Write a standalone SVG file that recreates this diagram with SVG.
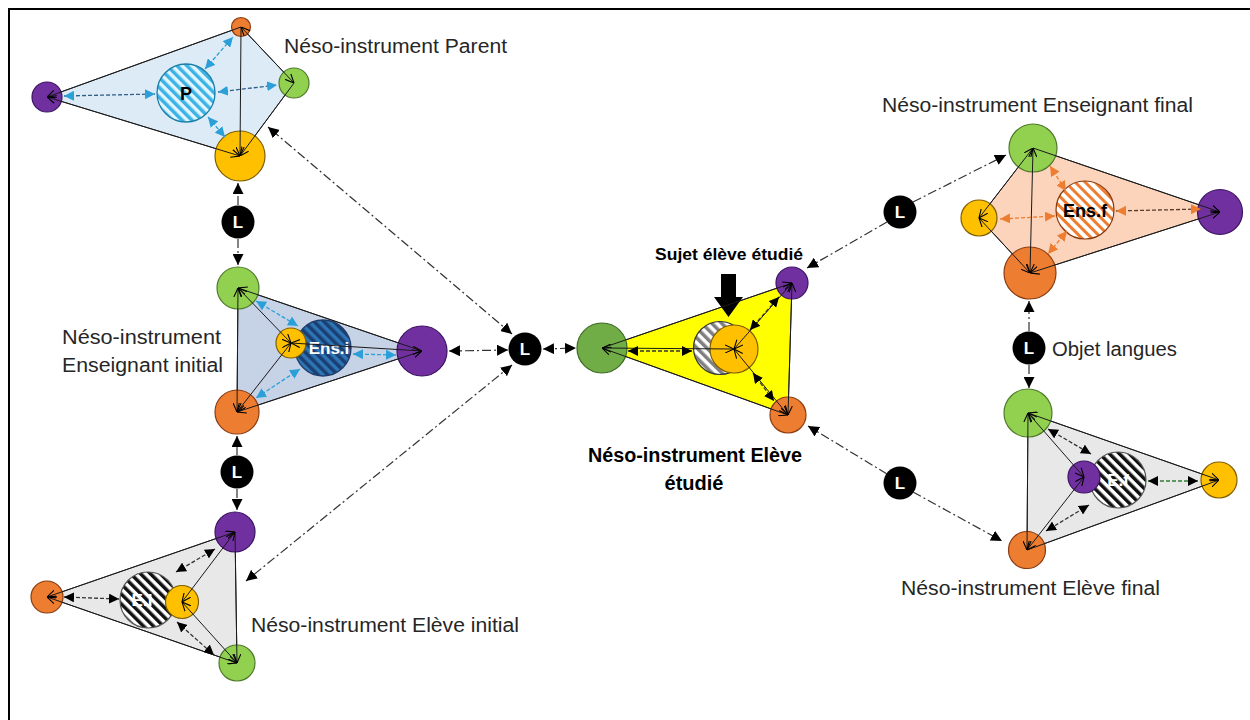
<svg xmlns="http://www.w3.org/2000/svg" width="1250" height="720" viewBox="0 0 1250 720">
<style>
.poly{stroke:#333;stroke-width:1}
.pu{fill:#7030a0;stroke:#3c1361;stroke-width:1.2}
.gr{fill:#92d050;stroke:#4f7a2b;stroke-width:1.2}
.gr2{fill:#70ad47;stroke:#3b6b22;stroke-width:1.2}
.ye{fill:#ffc000;stroke:#7f6000;stroke-width:1.2}
.or{fill:#ed7d31;stroke:#8a3b10;stroke-width:1.2}
.lc{fill:#000}
.lt{font-family:"Liberation Sans",Arial,sans-serif;font-weight:bold;font-size:17px;fill:#fff;text-anchor:middle}
.lab{font-family:"Liberation Sans",Arial,sans-serif;font-size:20px;fill:#262626}
.bl{font-family:"Liberation Sans",Arial,sans-serif;font-weight:bold;fill:#000}
.s{stroke:#1a1a1a;stroke-width:1;fill:none;marker-end:url(#oa)}
.s2{stroke:#1a1a1a;stroke-width:1;fill:none;marker-end:url(#oa);marker-start:url(#oa)}
.db{stroke:#2a9fd8;stroke-width:1.3;stroke-dasharray:4 2;fill:none;marker-start:url(#fblue);marker-end:url(#fblue)}
.do{stroke:#ed7d31;stroke-width:1.3;stroke-dasharray:4 2;fill:none;marker-start:url(#forg);marker-end:url(#forg)}
.dk{stroke:#333;stroke-width:1.3;stroke-dasharray:4 2;fill:none;marker-start:url(#fblk);marker-end:url(#fblk)}
.dd{stroke:#333;stroke-width:1.2;stroke-dasharray:9 3 2 3;fill:none;marker-end:url(#fL)}
.dd2{stroke:#333;stroke-width:1.2;stroke-dasharray:9 3 2 3;fill:none;marker-end:url(#fL);marker-start:url(#fL)}
</style>
<defs>
<marker id="oa" viewBox="0 0 10 10" refX="10" refY="5" markerWidth="9" markerHeight="9" markerUnits="userSpaceOnUse" orient="auto-start-reverse"><path d="M0,0.5 L10,5 L0,9.5" fill="none" stroke="#000" stroke-width="1.2"/></marker>
<marker id="fblk" viewBox="0 0 10 10" refX="10" refY="5" markerWidth="10" markerHeight="10" markerUnits="userSpaceOnUse" orient="auto-start-reverse"><path d="M0,0 L10,5 L0,10z" fill="#000"/></marker>
<marker id="fblue" viewBox="0 0 10 10" refX="10" refY="5" markerWidth="10" markerHeight="10" markerUnits="userSpaceOnUse" orient="auto-start-reverse"><path d="M0,0 L10,5 L0,10z" fill="#2a9fd8"/></marker>
<marker id="forg" viewBox="0 0 10 10" refX="10" refY="5" markerWidth="10" markerHeight="10" markerUnits="userSpaceOnUse" orient="auto-start-reverse"><path d="M0,0 L10,5 L0,10z" fill="#ed7d31"/></marker>
<marker id="fL" viewBox="0 0 10 10" refX="10" refY="5" markerWidth="11" markerHeight="11" markerUnits="userSpaceOnUse" orient="auto-start-reverse"><path d="M0,0 L10,5 L0,10z" fill="#000"/></marker>
<pattern id="hP" width="7" height="7" patternUnits="userSpaceOnUse" patternTransform="rotate(-45)"><rect width="7" height="7" fill="#e4f6fd"/><rect width="3.5" height="7" fill="#3bb3e6"/></pattern>
<pattern id="hE" width="7" height="7" patternUnits="userSpaceOnUse" patternTransform="rotate(-45)"><rect width="7" height="7" fill="#2e75b6"/><rect width="3.5" height="7" fill="#1a3f73"/></pattern>
<pattern id="hF" width="7" height="7" patternUnits="userSpaceOnUse" patternTransform="rotate(-45)"><rect width="7" height="7" fill="#fff"/><rect width="3" height="7" fill="#ed7d31"/></pattern>
<pattern id="hK" width="7" height="7" patternUnits="userSpaceOnUse" patternTransform="rotate(-45)"><rect width="7" height="7" fill="#fff"/><rect width="3.5" height="7" fill="#111"/></pattern>
<pattern id="hG" width="7" height="7" patternUnits="userSpaceOnUse" patternTransform="rotate(-45)"><rect width="7" height="7" fill="#fff"/><rect width="3.5" height="7" fill="#7f7f7f"/></pattern>
</defs>
<rect x="9" y="9" width="1260" height="730" fill="#fff" stroke="#000" stroke-width="2"/>

<g id="panels">
<polygon id="panel-parent" class="poly" fill="#ddebf7" points="47,97 241,27 294,83 240,156"/>
<polygon id="panel-ensi" class="poly" fill="#c6d2e6" points="238,288 422,351 237,412"/>
<polygon id="panel-elevei" class="poly" fill="#e8e8e8" points="235,532 237,663 47,597"/>
<polygon id="panel-etudie" class="poly" fill="#ffff00" points="602,348 792,283 788,415"/>
<polygon id="panel-ensf" class="poly" fill="#fbd4bb" points="1033,148 1220,212 1030,273 979,218"/>
<polygon id="panel-elevef" class="poly" fill="#e8e8e8" points="1028,413 1219,480 1027,550"/>
</g>

<!-- Parent -->
<g id="parent-orange"><circle class="or" cx="241" cy="27" r="9.5"/></g>
<g id="parent-purple"><circle class="pu" cx="47" cy="97" r="15"/></g>
<g id="parent-P"><circle cx="186" cy="93" r="29" fill="url(#hP)" stroke="#1b7fa8" stroke-width="1.3"/><text x="186" y="100" class="bl" font-size="18" text-anchor="middle">P</text></g>
<g id="parent-green"><circle class="gr" cx="294" cy="83" r="15"/></g>
<g id="parent-yellow"><circle class="ye" cx="240" cy="156" r="25"/></g>
<g id="label-parent"><text class="lab" x="284" y="53" textLength="223" lengthAdjust="spacingAndGlyphs">Néso-instrument Parent</text></g>

<!-- Enseignant initial -->
<g id="ensi-green"><circle class="gr" cx="238" cy="288" r="21"/></g>
<g id="ensi-orange"><circle class="or" cx="237" cy="412" r="22"/></g>
<g id="ensi-purple"><circle class="pu" cx="422" cy="351" r="25"/></g>
<g id="ensi-Ens"><circle cx="323" cy="348" r="28" fill="url(#hE)" stroke="#1f3d6b" stroke-width="1.3"/><text x="329" y="354" class="lt" font-size="16">Ens.i</text></g>
<g id="ensi-yellow"><circle class="ye" cx="291" cy="343" r="15"/></g>
<g id="label-ensi"><text class="lab" x="62" y="344" textLength="159" lengthAdjust="spacingAndGlyphs">Néso-instrument</text><text class="lab" x="62" y="372" textLength="161" lengthAdjust="spacingAndGlyphs">Enseignant initial</text></g>

<!-- Eleve initial -->
<g id="elevei-purple"><circle class="pu" cx="235" cy="532" r="20"/></g>
<g id="elevei-orange"><circle class="or" cx="47" cy="597" r="16"/></g>
<g id="elevei-green"><circle class="gr" cx="237" cy="663" r="18"/></g>
<g id="elevei-EI"><circle cx="148" cy="600" r="28" fill="url(#hK)" stroke="#555" stroke-width="1.2"/><text x="142" y="606" class="lt" font-size="16">E.I</text></g>
<g id="elevei-yellow"><circle class="ye" cx="182" cy="602" r="16.5"/></g>
<g id="label-elevei"><text class="lab" x="251" y="632" textLength="268" lengthAdjust="spacingAndGlyphs">Néso-instrument Elève initial</text></g>

<!-- Eleve etudie -->
<g id="etudie-green"><circle class="gr2" cx="602" cy="348" r="25"/></g>
<g id="etudie-purple"><circle class="pu" cx="792" cy="283" r="16"/></g>
<g id="etudie-orange"><circle class="or" cx="788" cy="415" r="18"/></g>
<g id="etudie-hatch"><circle cx="720" cy="348" r="26.5" fill="url(#hG)" stroke="#333" stroke-width="1.2"/></g>
<g id="etudie-yellow"><circle class="ye" cx="734" cy="349" r="24"/></g>
<g id="etudie-bigarrow"><polygon points="721,274 736,274 736,297 743,297 728.5,317 714,297 721,297" fill="#000"/></g>
<g id="label-sujet"><text class="bl" x="655" y="260" font-size="17" textLength="148" lengthAdjust="spacingAndGlyphs">Sujet élève étudié</text></g>
<g id="label-etudie"><text class="bl" x="588" y="462" font-size="20" textLength="214" lengthAdjust="spacingAndGlyphs">Néso-instrument Elève</text><text class="bl" x="694" y="490" font-size="20" text-anchor="middle">étudié</text></g>

<!-- Enseignant final -->
<g id="ensf-green"><circle class="gr" cx="1033" cy="148" r="24"/></g>
<g id="ensf-yellow"><circle class="ye" cx="979" cy="218" r="18"/></g>
<g id="ensf-purple"><circle class="pu" cx="1220" cy="212" r="22.5"/></g>
<g id="ensf-orange"><circle class="or" cx="1030" cy="273" r="26"/></g>
<g id="ensf-Ens"><circle cx="1085" cy="210" r="29" fill="url(#hF)" stroke="#8a3b10" stroke-width="1.2"/><text x="1085" y="217" class="bl" font-size="18" text-anchor="middle">Ens.f</text></g>
<g id="label-ensf"><text class="lab" x="882" y="112" textLength="311" lengthAdjust="spacingAndGlyphs">Néso-instrument Enseignant final</text></g>

<!-- Eleve final -->
<g id="elevef-green"><circle class="gr" cx="1028" cy="413" r="24"/></g>
<g id="elevef-orange"><circle class="or" cx="1027" cy="550" r="18.5"/></g>
<g id="elevef-yellow"><circle class="ye" cx="1219" cy="480" r="18"/></g>
<g id="elevef-Ef"><circle cx="1118" cy="480" r="28" fill="url(#hK)" stroke="#555" stroke-width="1.2"/><text x="1118" y="486" class="lt" font-size="16">E.f</text></g>
<g id="elevef-purple"><circle class="pu" cx="1084" cy="477" r="16"/></g>
<g id="label-elevef"><text class="lab" x="901" y="595" textLength="259" lengthAdjust="spacingAndGlyphs">Néso-instrument Elève final</text></g>
<g id="label-objet"><text class="lab" x="1052" y="356" textLength="125" lengthAdjust="spacingAndGlyphs">Objet langues</text></g>

<!-- L nodes -->
<g id="L1"><circle class="lc" cx="238" cy="222" r="16.5"/><text class="lt" x="238" y="228">L</text></g>
<g id="L2"><circle class="lc" cx="237" cy="472" r="16.5"/><text class="lt" x="237" y="478">L</text></g>
<g id="Lc"><circle class="lc" cx="525" cy="349" r="16.5"/><text class="lt" x="525" y="355">L</text></g>
<g id="L3"><circle class="lc" cx="900" cy="212" r="16.5"/><text class="lt" x="900" y="218">L</text></g>
<g id="L4"><circle class="lc" cx="1029" cy="348" r="16.5"/><text class="lt" x="1029" y="354">L</text></g>
<g id="L5"><circle class="lc" cx="900" cy="483" r="16.5"/><text class="lt" x="900" y="489">L</text></g>

<g id="connectors">
<!-- parent -->
<line class="s" x1="241" y1="27" x2="240" y2="156"/>
<line class="s2" x1="241" y1="27" x2="294" y2="83"/>
<line class="s" x1="294" y1="83" x2="240" y2="156"/>
<line class="s2" x1="47" y1="97" x2="240" y2="156"/>
<line class="s" x1="241" y1="27" x2="47" y2="97"/>
<line class="db" x1="64" y1="96" x2="155" y2="94" style="stroke:#2f5f8a"/>
<line class="db" x1="218" y1="92" x2="277" y2="85" style="stroke:#2f5f8a"/>
<line class="db" x1="205" y1="69" x2="233" y2="37"/>
<line class="db" x1="208" y1="117" x2="225" y2="137"/>
<!-- ens.i -->
<line class="s2" x1="238" y1="288" x2="237" y2="412"/>
<line class="s" x1="422" y1="351" x2="238" y2="288"/>
<line class="s2" x1="237" y1="412" x2="422" y2="351"/>
<line class="s2" x1="291" y1="343" x2="238" y2="288"/>
<line class="s2" x1="291" y1="343" x2="237" y2="412"/>
<line class="s2" x1="291" y1="343" x2="422" y2="351"/>
<line class="db" x1="353" y1="354" x2="396" y2="355"/>
<line class="db" x1="256" y1="301" x2="298" y2="326"/>
<line class="db" x1="300" y1="369" x2="256" y2="398"/>
<!-- eleve initial -->
<line class="s" x1="235" y1="532" x2="237" y2="663"/>
<line class="s2" x1="235" y1="532" x2="47" y2="597"/>
<line class="s2" x1="237" y1="663" x2="47" y2="597"/>
<line class="s2" x1="182" y1="602" x2="235" y2="532"/>
<line class="s2" x1="182" y1="602" x2="237" y2="663"/>
<line class="dk" x1="64" y1="597" x2="119" y2="599"/>
<line class="dk" x1="176" y1="572" x2="215" y2="549"/>
<line class="dk" x1="177" y1="622" x2="214" y2="655"/>
<!-- etudie -->
<line class="s2" x1="792" y1="283" x2="788" y2="415"/>
<line class="s" x1="602" y1="348" x2="792" y2="283"/>
<line class="s2" x1="788" y1="415" x2="602" y2="348"/>
<line class="s2" x1="734" y1="349" x2="602" y2="348"/>
<line class="s2" x1="734" y1="349" x2="792" y2="283"/>
<line class="s2" x1="734" y1="349" x2="788" y2="415"/>
<line class="dk" x1="628" y1="351" x2="692" y2="351"/>
<line class="dk" x1="750" y1="330" x2="779" y2="297"/>
<line class="dk" x1="753" y1="373" x2="774" y2="401"/>
<!-- ens.f -->
<line class="s2" x1="1033" y1="148" x2="1030" y2="273"/>
<line class="s2" x1="979" y1="218" x2="1033" y2="148"/>
<line class="s2" x1="979" y1="218" x2="1030" y2="273"/>
<line class="s" x1="1033" y1="148" x2="1220" y2="212"/>
<line class="s2" x1="1030" y1="273" x2="1220" y2="212"/>
<line class="do" x1="1055" y1="216" x2="1000" y2="219"/>
<line class="do" x1="1116" y1="211" x2="1201" y2="209" style="stroke:#5a3a2a"/>
<line class="do" x1="1050" y1="166" x2="1066" y2="191"/>
<line class="do" x1="1067" y1="231" x2="1048" y2="254"/>
<!-- eleve final -->
<line class="s2" x1="1028" y1="413" x2="1027" y2="550"/>
<line class="s2" x1="1028" y1="413" x2="1219" y2="480"/>
<line class="s" x1="1027" y1="550" x2="1219" y2="480"/>
<line class="s2" x1="1084" y1="477" x2="1028" y2="413"/>
<line class="s2" x1="1084" y1="477" x2="1027" y2="550"/>
<line class="dk" x1="1048" y1="429" x2="1091" y2="454"/>
<line class="dk" x1="1089" y1="505" x2="1046" y2="531"/>
<line class="dk" x1="1148" y1="481" x2="1198" y2="481" style="stroke:#2e7d32"/>
<!-- L links -->
<line class="dd" x1="238" y1="205" x2="238" y2="183"/>
<line class="dd" x1="238" y1="239" x2="238" y2="265"/>
<line class="dd" x1="237" y1="455" x2="237" y2="436"/>
<line class="dd" x1="237" y1="489" x2="237" y2="510"/>
<line class="dd2" x1="508" y1="350" x2="449" y2="351"/>
<line class="dd2" x1="543" y1="349" x2="576" y2="348"/>
<line class="dd2" x1="512" y1="334" x2="268" y2="127"/>
<line class="dd2" x1="512" y1="365" x2="246" y2="581"/>
<line class="dd" x1="913" y1="202" x2="1006" y2="155"/>
<line class="dd" x1="887" y1="222" x2="807" y2="268"/>
<line class="dd" x1="1029" y1="331" x2="1029" y2="301"/>
<line class="dd" x1="1029" y1="365" x2="1029" y2="388"/>
<line class="dd" x1="887" y1="474" x2="808" y2="426"/>
<line class="dd" x1="913" y1="492" x2="1002" y2="541"/>
</g>
</svg>
